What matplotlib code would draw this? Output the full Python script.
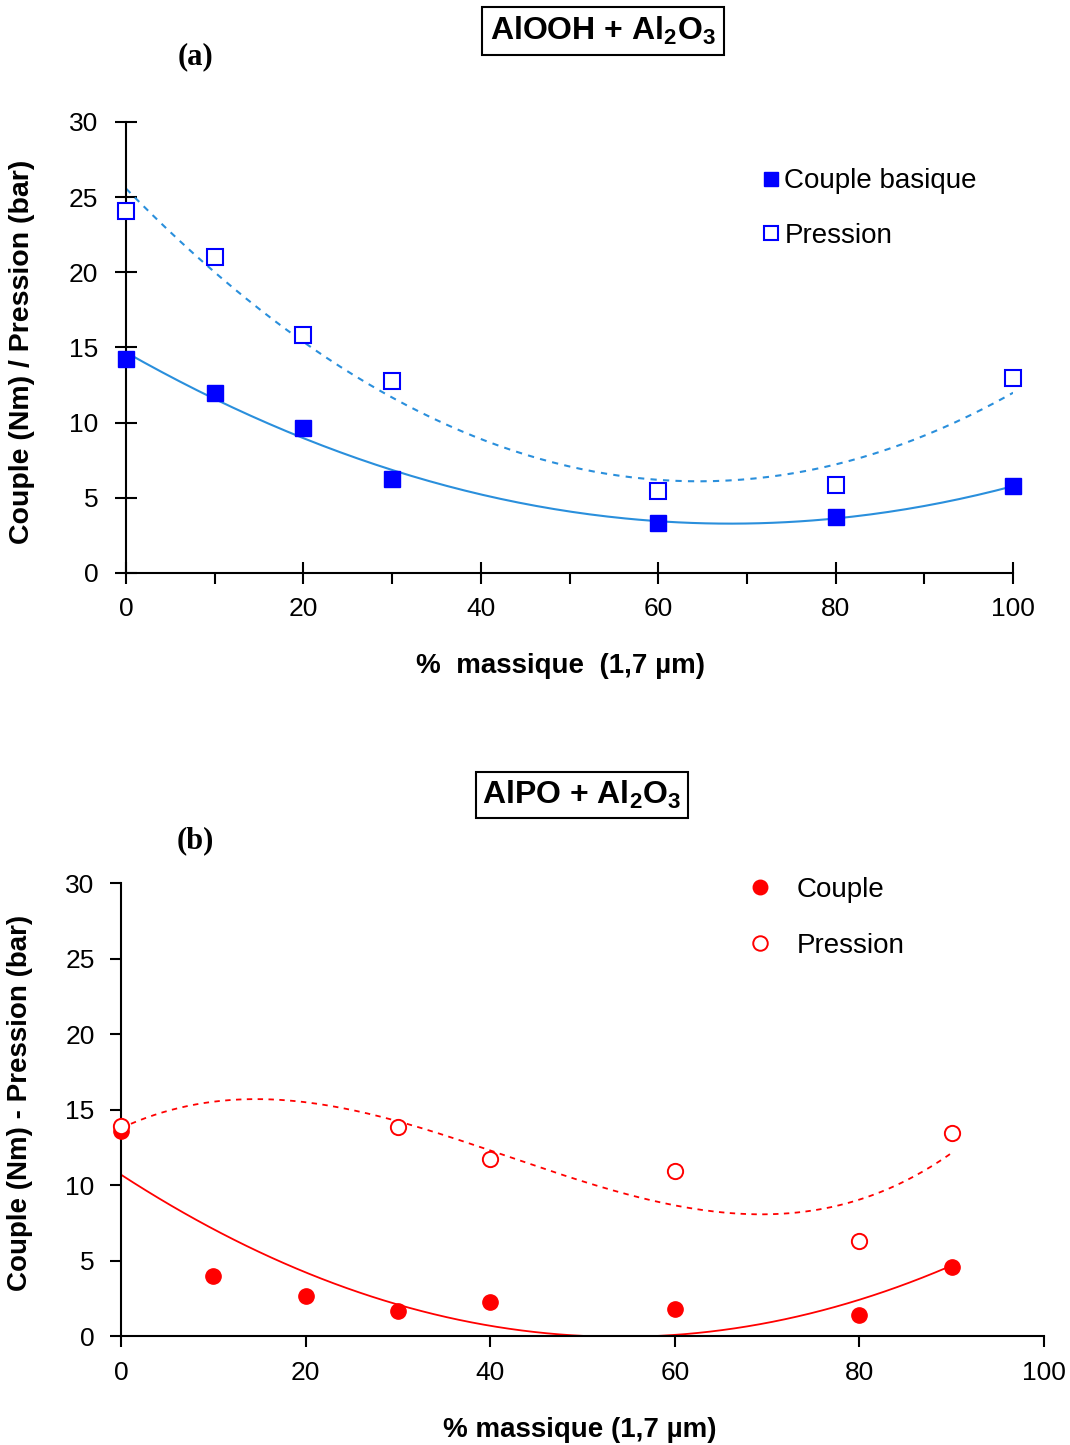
import matplotlib
matplotlib.use("Agg")
import matplotlib.pyplot as plt
import numpy as np

plt.rcParams['font.family'] = ['Liberation Sans', 'DejaVu Sans']
plt.rcParams['mathtext.fontset'] = 'custom'
plt.rcParams['mathtext.rm'] = 'Liberation Sans:bold'
plt.rcParams['mathtext.bf'] = 'Liberation Sans:bold'

# Data, panel (a): AlOOH + Al2O3
x_a = [0, 10, 20, 30, 60, 80, 100]
couple_a = [14.2, 12.0, 9.65, 6.25, 3.3, 3.7, 5.8]
pression_a = [24.1, 21.0, 15.8, 12.8, 5.45, 5.85, 13.0]

# Data, panel (b): AlPO + Al2O3
x_b_couple = [0, 10, 20, 30, 40, 60, 80, 90]
couple_b = [13.6, 4.0, 2.65, 1.65, 2.25, 1.8, 1.4, 4.55]
x_b_pression = [0, 30, 40, 60, 80, 90]
pression_b = [13.9, 13.85, 11.7, 10.9, 6.3, 13.45]

blue = '#0000ff'
trend_blue = '#2a8fdc'
red = '#ff0000'

fig = plt.figure(figsize=(10.7, 14.45), dpi=100)

# ---------- panel (a) ----------
ax1 = fig.add_axes([0.1178, 0.6035, 0.829, 0.3121])
xs = np.linspace(0, 100, 200)
fit_c = np.polyfit(x_a, couple_a, 2)
fit_p = np.polyfit(x_a, pression_a, 2)
ax1.plot(xs, np.polyval(fit_c, xs), color=trend_blue, lw=1.5)
ax1.plot(xs, np.polyval(fit_p, xs), color=trend_blue, lw=1.5, linestyle=(0, (3, 3)))
ax1.plot(x_a, couple_a, 's', color=blue, markersize=11, linestyle='none', clip_on=False,
         label='Couple basique', zorder=3)
ax1.plot(x_a, pression_a, 's', markerfacecolor='white', markeredgecolor=blue, markeredgewidth=1.5,
         markersize=11, linestyle='none', clip_on=False, label='Pression', zorder=3)
ax1.set_xlim(0, 100)
ax1.set_ylim(0, 30)
ax1.set_xticks(np.arange(0, 101, 20))
ax1.set_xticks(np.arange(0, 101, 10), minor=True)
ax1.set_yticks(np.arange(0, 31, 5))
ax1.spines['top'].set_visible(False)
ax1.spines['right'].set_visible(False)
for s in ['left', 'bottom']:
    ax1.spines[s].set_linewidth(1.5)
ax1.tick_params(axis='y', direction='inout', length=16, width=1.5, labelsize=19, pad=12)
ax1.tick_params(axis='x', which='major', direction='inout', length=16, width=1.5, labelsize=19, pad=9)
ax1.tick_params(axis='x', which='minor', direction='out', length=8, width=1.5)
ax1.set_xlabel('%  massique  (1,7 µm)', fontsize=20, fontweight='bold', va='center')
ax1.xaxis.set_label_coords(0.49, -0.206)
ax1.set_ylabel('Couple (Nm) / Pression (bar)', fontsize=20.5, fontweight='bold', va='center')
ax1.yaxis.set_label_coords(-0.117, 0.49)
ax1.legend(loc='upper left', bbox_to_anchor=(0.715, 0.897), frameon=False, fontsize=20,
           borderpad=0, borderaxespad=0, handlelength=0.8, handletextpad=0.07,
           labelspacing=1.03, markerscale=0.95)
fig.text(0.5636, 0.9785, r'AlOOH + Al$_2$O$_3$', fontsize=23, fontweight='bold', ha='center', va='center',
         bbox=dict(boxstyle='square,pad=0.25', facecolor='white', edgecolor='black', linewidth=1.5))
fig.text(0.183, 0.9606, '(a)', fontsize=22, fontweight='bold', family='Liberation Serif', ha='center', va='center')

# ---------- panel (b) ----------
ax2 = fig.add_axes([0.1131, 0.0754, 0.8626, 0.3135])
xs_b = np.linspace(0, 90, 200)
fit_cb = np.polyfit(x_b_couple, couple_b, 2)
fit_pb = np.polyfit(x_b_pression, pression_b, 3)
ax2.plot(xs_b, np.polyval(fit_cb, xs_b), color=red, lw=1.3)
ax2.plot(xs_b, np.polyval(fit_pb, xs_b), color=red, lw=1.3, linestyle=(0, (3, 3)))
ax2.plot(x_b_couple, couple_b, 'o', color=red, markersize=11, linestyle='none', clip_on=False,
         label='Couple', zorder=3)
ax2.plot(x_b_pression, pression_b, 'o', markerfacecolor='white', markeredgecolor=red, markeredgewidth=1.4,
         markersize=11, linestyle='none', clip_on=False, label='Pression', zorder=3)
ax2.set_xlim(0, 100)
ax2.set_ylim(0, 30)
ax2.set_xticks(np.arange(0, 101, 20))
ax2.set_yticks(np.arange(0, 31, 5))
ax2.spines['top'].set_visible(False)
ax2.spines['right'].set_visible(False)
for s in ['left', 'bottom']:
    ax2.spines[s].set_linewidth(1.5)
ax2.tick_params(axis='y', direction='out', length=8, width=1.5, labelsize=19, pad=11)
ax2.tick_params(axis='x', direction='out', length=8, width=1.5, labelsize=19, pad=10)
ax2.set_xlabel('% massique (1,7 µm)', fontsize=20, fontweight='bold', va='center')
ax2.xaxis.set_label_coords(0.497, -0.2075)
ax2.set_ylabel('Couple (Nm) - Pression (bar)', fontsize=20, fontweight='bold', va='center')
ax2.yaxis.set_label_coords(-0.109, 0.514)
ax2.legend(loc='upper left', bbox_to_anchor=(0.68, 1.013), frameon=False, fontsize=20,
           borderpad=0, borderaxespad=0, handlelength=0.8, handletextpad=0.93,
           labelspacing=1.08, markerscale=0.95)
fig.text(0.544, 0.4498, r'AlPO + Al$_2$O$_3$', fontsize=23, fontweight='bold', ha='center', va='center',
         bbox=dict(boxstyle='square,pad=0.2', facecolor='white', edgecolor='black', linewidth=1.5))
fig.text(0.183, 0.418, '(b)', fontsize=22, fontweight='bold', family='Liberation Serif', ha='center', va='center')

fig.savefig('out.png', dpi=100)
